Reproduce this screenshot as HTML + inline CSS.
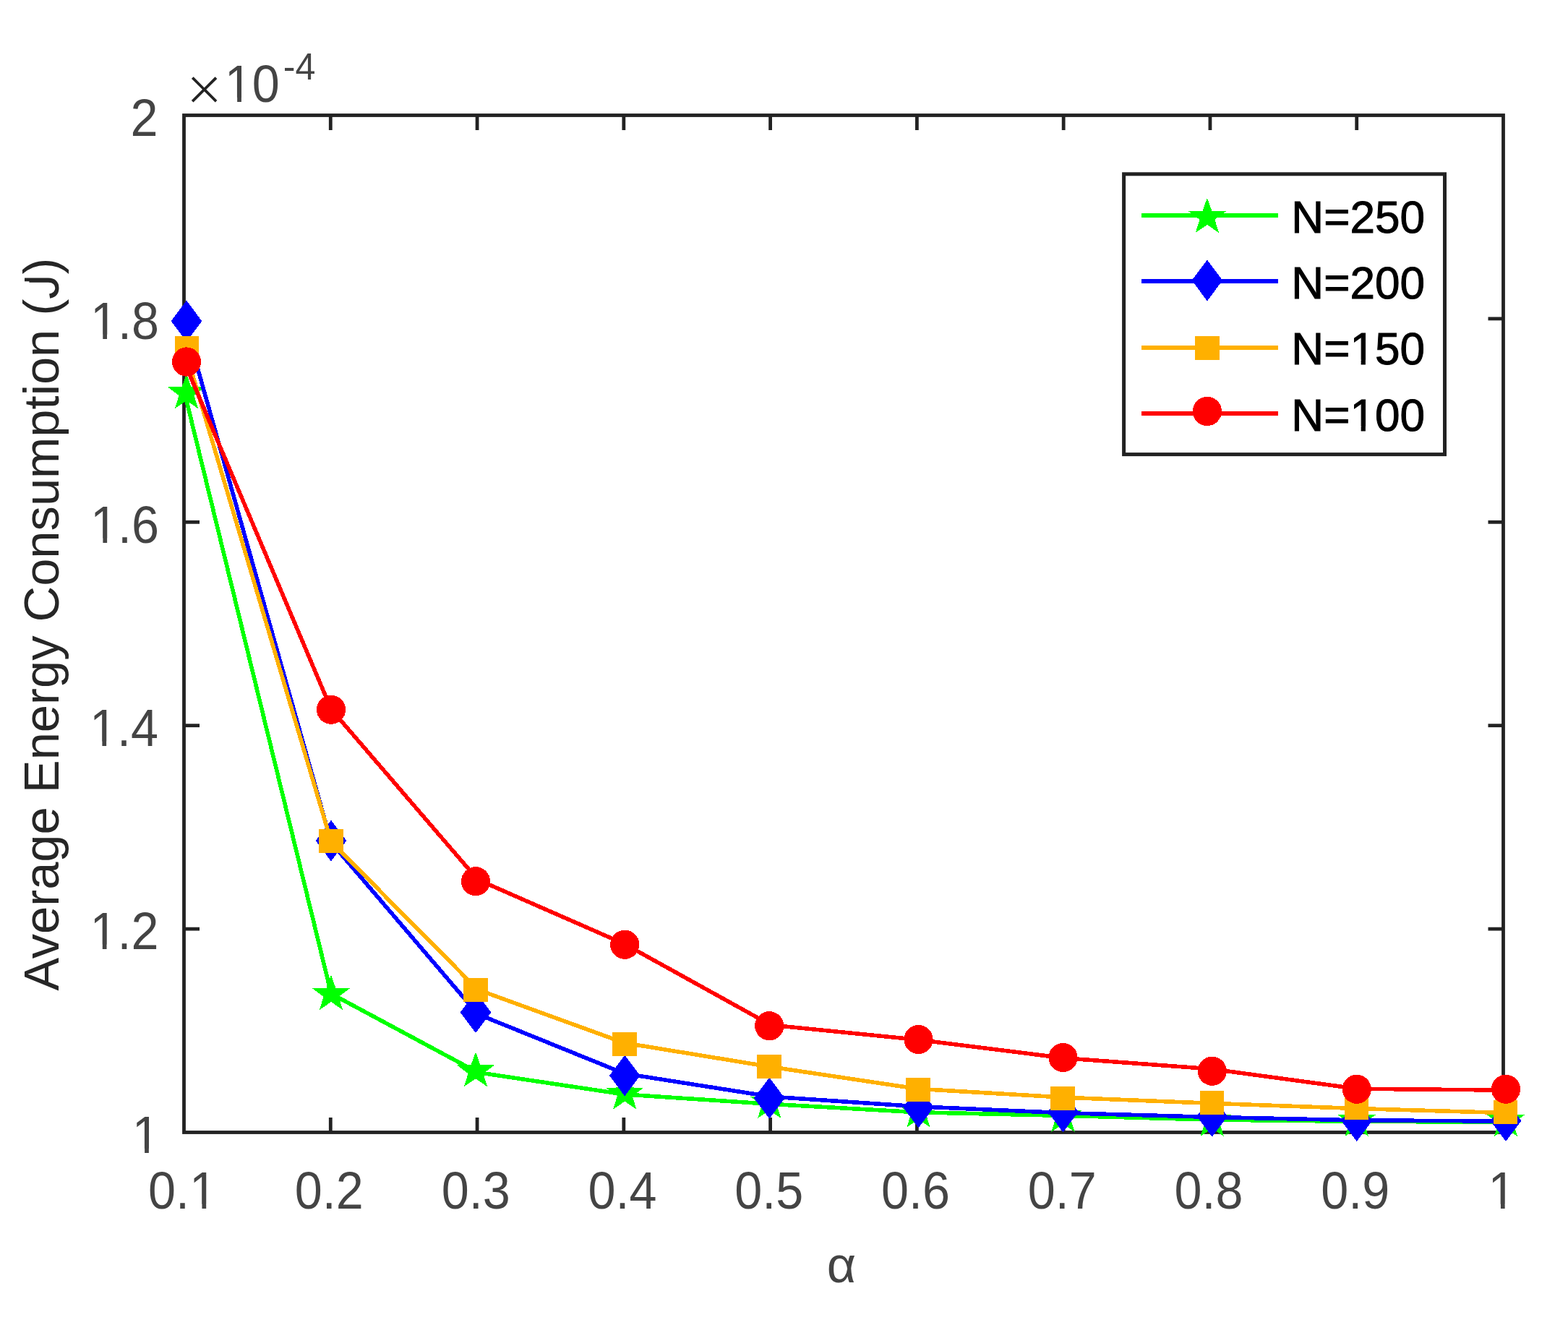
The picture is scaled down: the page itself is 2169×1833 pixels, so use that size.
<!DOCTYPE html>
<html lang="en">
<head>
<meta charset="utf-8">
<title>Average Energy Consumption vs α</title>
<style>
html,body{margin:0;padding:0;background:#ffffff;}
body{width:2169px;height:1833px;overflow:hidden;}
svg{display:block;}
text{white-space:pre;}
</style>
</head>
<body>
<svg width="2169" height="1833" viewBox="0 0 2169 1833" font-family='"Liberation Sans", "DejaVu Sans", sans-serif'>
<rect x="0" y="0" width="2169" height="1833" fill="#ffffff"/>
<defs>
<clipPath id="c1"><path clip-rule="evenodd" d="M-50 -86.4 H150.1 V36.0 H-50 Z M63.53 -6.28 H78.30 V2.00 H63.53 Z M84.37 -6.28 H98.57 V2.00 H84.37 Z"/></clipPath>
<clipPath id="c2"><path clip-rule="evenodd" d="M-50 -86.4 H90.0 V36.0 H-50 Z M3.48 -6.28 H18.26 V2.00 H3.48 Z M24.32 -6.28 H38.53 V2.00 H24.32 Z"/></clipPath>
<clipPath id="c3"><path clip-rule="evenodd" d="M-50 -86.4 H150.1 V36.0 H-50 Z M3.48 -6.28 H18.26 V2.00 H3.48 Z M24.32 -6.28 H38.53 V2.00 H24.32 Z"/></clipPath>
<clipPath id="c4"><path clip-rule="evenodd" d="M-50 -86.4 H150.1 V36.0 H-50 Z M3.48 -6.28 H18.26 V2.00 H3.48 Z M24.32 -6.28 H38.53 V2.00 H24.32 Z"/></clipPath>
<clipPath id="c5"><path clip-rule="evenodd" d="M-50 -86.4 H150.1 V36.0 H-50 Z M3.48 -6.28 H18.26 V2.00 H3.48 Z M24.32 -6.28 H38.53 V2.00 H24.32 Z"/></clipPath>
<clipPath id="c6"><path clip-rule="evenodd" d="M-50 -86.4 H150.1 V36.0 H-50 Z M3.48 -6.28 H18.26 V2.00 H3.48 Z M24.32 -6.28 H38.53 V2.00 H24.32 Z"/></clipPath>
<clipPath id="c7"><path clip-rule="evenodd" d="M-50 -86.4 H90.0 V36.0 H-50 Z M3.48 -6.28 H18.26 V2.00 H3.48 Z M24.32 -6.28 H38.53 V2.00 H24.32 Z"/></clipPath>
<clipPath id="c8"><path clip-rule="evenodd" d="M-50 -86.4 H130.1 V36.0 H-50 Z M3.48 -6.28 H18.26 V2.00 H3.48 Z M24.32 -6.28 H38.53 V2.00 H24.32 Z"/></clipPath>
<clipPath id="c9"><path clip-rule="evenodd" d="M-50 -82.3 H1064.2 V34.3 H-50 Z M968.85 -49.20 H980.08 V-40.97 H968.85 Z"/></clipPath>
<clipPath id="c10"><path clip-rule="evenodd" d="M-50 -76.6 H239.8 V31.9 H-50 Z M86.19 -6.17 H99.03 V2.00 H86.19 Z M105.36 -6.17 H117.70 V2.00 H105.36 Z"/></clipPath>
<clipPath id="c11"><path clip-rule="evenodd" d="M-50 -76.6 H239.8 V31.9 H-50 Z M86.19 -6.17 H99.03 V2.00 H86.19 Z M105.36 -6.17 H117.70 V2.00 H105.36 Z"/></clipPath>
</defs>
<g id="axes" stroke="#222222" stroke-width="4.80" fill="none" stroke-linecap="butt">
<rect x="254.50" y="159.50" width="1825.00" height="1407.00"/>
<line x1="457.28" y1="1566.50" x2="457.28" y2="1546.00"/>
<line x1="457.28" y1="159.50" x2="457.28" y2="180.00"/>
<line x1="660.06" y1="1566.50" x2="660.06" y2="1546.00"/>
<line x1="660.06" y1="159.50" x2="660.06" y2="180.00"/>
<line x1="862.83" y1="1566.50" x2="862.83" y2="1546.00"/>
<line x1="862.83" y1="159.50" x2="862.83" y2="180.00"/>
<line x1="1065.61" y1="1566.50" x2="1065.61" y2="1546.00"/>
<line x1="1065.61" y1="159.50" x2="1065.61" y2="180.00"/>
<line x1="1268.39" y1="1566.50" x2="1268.39" y2="1546.00"/>
<line x1="1268.39" y1="159.50" x2="1268.39" y2="180.00"/>
<line x1="1471.17" y1="1566.50" x2="1471.17" y2="1546.00"/>
<line x1="1471.17" y1="159.50" x2="1471.17" y2="180.00"/>
<line x1="1673.94" y1="1566.50" x2="1673.94" y2="1546.00"/>
<line x1="1673.94" y1="159.50" x2="1673.94" y2="180.00"/>
<line x1="1876.72" y1="1566.50" x2="1876.72" y2="1546.00"/>
<line x1="1876.72" y1="159.50" x2="1876.72" y2="180.00"/>
<line x1="254.50" y1="1285.10" x2="276.00" y2="1285.10"/>
<line x1="2079.50" y1="1285.10" x2="2058.50" y2="1285.10"/>
<line x1="254.50" y1="1003.70" x2="276.00" y2="1003.70"/>
<line x1="2079.50" y1="1003.70" x2="2058.50" y2="1003.70"/>
<line x1="254.50" y1="722.30" x2="276.00" y2="722.30"/>
<line x1="2079.50" y1="722.30" x2="2058.50" y2="722.30"/>
<line x1="254.50" y1="440.90" x2="276.00" y2="440.90"/>
<line x1="2079.50" y1="440.90" x2="2058.50" y2="440.90"/>
</g>
<g id="xticks">
<text transform="translate(205.07 1672.00) scale(0.9497 1)" font-size="72.00" fill="#444444" clip-path="url(#c1)">0.1</text>
<text transform="translate(407.85 1672.00) scale(0.9497 1)" font-size="72.00" fill="#444444">0.2</text>
<text transform="translate(610.63 1672.00) scale(0.9497 1)" font-size="72.00" fill="#444444">0.3</text>
<text transform="translate(813.41 1672.00) scale(0.9497 1)" font-size="72.00" fill="#444444">0.4</text>
<text transform="translate(1016.18 1672.00) scale(0.9497 1)" font-size="72.00" fill="#444444">0.5</text>
<text transform="translate(1218.96 1672.00) scale(0.9497 1)" font-size="72.00" fill="#444444">0.6</text>
<text transform="translate(1421.74 1672.00) scale(0.9497 1)" font-size="72.00" fill="#444444">0.7</text>
<text transform="translate(1624.52 1672.00) scale(0.9497 1)" font-size="72.00" fill="#444444">0.8</text>
<text transform="translate(1827.29 1672.00) scale(0.9497 1)" font-size="72.00" fill="#444444">0.9</text>
<text transform="translate(2058.59 1672.00) scale(0.9497 1)" font-size="72.00" fill="#444444" clip-path="url(#c2)">1</text>
</g>
<g id="yticks">
<text transform="translate(180.57 188.00) scale(0.9497 1)" font-size="72.00" fill="#444444">2</text>
<text transform="translate(124.94 469.00) scale(0.9497 1)" font-size="72.00" fill="#444444" clip-path="url(#c3)">1.8</text>
<text transform="translate(125.04 751.00) scale(0.9497 1)" font-size="72.00" fill="#444444" clip-path="url(#c4)">1.6</text>
<text transform="translate(124.04 1032.00) scale(0.9497 1)" font-size="72.00" fill="#444444" clip-path="url(#c5)">1.4</text>
<text transform="translate(124.44 1313.00) scale(0.9497 1)" font-size="72.00" fill="#444444" clip-path="url(#c6)">1.2</text>
<text transform="translate(182.77 1595.00) scale(0.9497 1)" font-size="72.00" fill="#444444" clip-path="url(#c7)">1</text>
</g>
<g id="exponent">
<text transform="translate(256.88 153.00)" font-size="87.60" fill="#222222" stroke="#ffffff" stroke-width="2.4" stroke-linejoin="miter">×</text>
<text transform="translate(310.81 141.00) scale(0.9497 1)" font-size="72.00" fill="#444444" clip-path="url(#c8)">10</text>
<text transform="translate(391.77 110.00) scale(0.9750 1)" font-size="51.50" fill="#444444">-4</text>
</g>
<text transform="translate(1143.84 1774.00) scale(0.9840 1)" font-size="71.00" fill="#444444">α</text>
<text transform="translate(81.40 1370.87) rotate(-90) scale(1.0015 1)" font-size="68.60" fill="#262626" clip-path="url(#c9)">Average Energy Consumption (J)</text>
<g id="data" shape-rendering="crispEdges">
<polyline points="255.33,543.29 458.11,1374.70 660.89,1483.60 863.66,1513.99 1066.44,1527.35 1269.22,1538.76 1472.00,1543.39 1674.77,1549.08 1877.55,1551.37 2080.33,1552.22" fill="none" stroke="#00ff00" stroke-width="5.60" stroke-linejoin="round"/>
<polygon points="258.00,517.15 264.45,535.14 284.11,535.53 268.44,547.04 274.13,565.27 258.00,554.39 241.87,565.27 247.56,547.04 231.89,535.53 251.55,535.14" fill="#00ff00"/>
<polygon points="458.00,1348.90 464.45,1366.89 484.11,1367.28 468.44,1378.79 474.13,1397.02 458.00,1386.14 441.87,1397.02 447.56,1378.79 431.89,1367.28 451.55,1366.89" fill="#00ff00"/>
<polygon points="658.00,1455.15 664.45,1473.14 684.11,1473.53 668.44,1485.04 674.13,1503.27 658.00,1492.39 641.87,1503.27 647.56,1485.04 631.89,1473.53 651.55,1473.14" fill="#00ff00"/>
<polygon points="864.25,1486.40 870.70,1504.39 890.36,1504.78 874.69,1516.29 880.38,1534.52 864.25,1523.64 848.12,1534.52 853.81,1516.29 838.14,1504.78 857.80,1504.39" fill="#00ff00"/>
<polygon points="1064.25,1498.90 1070.70,1516.89 1090.36,1517.28 1074.69,1528.79 1080.38,1547.02 1064.25,1536.14 1048.12,1547.02 1053.81,1528.79 1038.14,1517.28 1057.80,1516.89" fill="#00ff00"/>
<polygon points="1270.50,1511.40 1276.95,1529.39 1296.61,1529.78 1280.94,1541.29 1286.63,1559.52 1270.50,1548.64 1254.37,1559.52 1260.06,1541.29 1244.39,1529.78 1264.05,1529.39" fill="#00ff00"/>
<polygon points="1470.50,1517.65 1476.95,1535.64 1496.61,1536.03 1480.94,1547.54 1486.63,1565.77 1470.50,1554.89 1454.37,1565.77 1460.06,1547.54 1444.39,1536.03 1464.05,1535.64" fill="#00ff00"/>
<polygon points="1676.75,1523.90 1683.20,1541.89 1702.86,1542.28 1687.19,1553.79 1692.88,1572.02 1676.75,1561.14 1660.62,1572.02 1666.31,1553.79 1650.64,1542.28 1670.30,1541.89" fill="#00ff00"/>
<polygon points="1876.75,1523.90 1883.20,1541.89 1902.86,1542.28 1887.19,1553.79 1892.88,1572.02 1876.75,1561.14 1860.62,1572.02 1866.31,1553.79 1850.64,1542.28 1870.30,1541.89" fill="#00ff00"/>
<polygon points="2083.00,1523.90 2089.45,1541.89 2109.11,1542.28 2093.44,1553.79 2099.13,1572.02 2083.00,1561.14 2066.87,1572.02 2072.56,1553.79 2056.89,1542.28 2076.55,1541.89" fill="#00ff00"/>
<polyline points="255.33,445.36 458.11,1165.53 660.89,1402.96 863.66,1485.12 1066.44,1517.11 1269.22,1530.76 1472.00,1539.69 1674.77,1545.38 1877.55,1549.85 2080.33,1551.04" fill="none" stroke="#0000ff" stroke-width="5.60" stroke-linejoin="round"/>
<polygon points="258.00,415.75 279.30,444.25 258.00,472.75 236.70,444.25" fill="#0000ff"/>
<polygon points="458.00,1134.50 479.30,1163.00 458.00,1191.50 436.70,1163.00" fill="#0000ff"/>
<polygon points="658.00,1372.00 679.30,1400.50 658.00,1429.00 636.70,1400.50" fill="#0000ff"/>
<polygon points="864.25,1459.50 885.55,1488.00 864.25,1516.50 842.95,1488.00" fill="#0000ff"/>
<polygon points="1064.25,1490.75 1085.55,1519.25 1064.25,1547.75 1042.95,1519.25" fill="#0000ff"/>
<polygon points="1270.50,1503.25 1291.80,1531.75 1270.50,1560.25 1249.20,1531.75" fill="#0000ff"/>
<polygon points="1470.50,1509.50 1491.80,1538.00 1470.50,1566.50 1449.20,1538.00" fill="#0000ff"/>
<polygon points="1676.75,1515.75 1698.05,1544.25 1676.75,1572.75 1655.45,1544.25" fill="#0000ff"/>
<polygon points="1876.75,1522.00 1898.05,1550.50 1876.75,1579.00 1855.45,1550.50" fill="#0000ff"/>
<polygon points="2083.00,1522.00 2104.30,1550.50 2083.00,1579.00 2061.70,1550.50" fill="#0000ff"/>
<polyline points="255.33,481.41 458.11,1164.43 660.89,1369.13 863.66,1442.78 1066.44,1475.93 1269.22,1506.28 1472.00,1518.20 1674.77,1526.27 1877.55,1533.57 2080.33,1539.48" fill="none" stroke="#ffb000" stroke-width="5.60" stroke-linejoin="round"/>
<rect x="242" y="465" width="33" height="33" fill="#ffb000"/>
<rect x="441" y="1147" width="34" height="33" fill="#ffb000"/>
<rect x="641" y="1353" width="34" height="33" fill="#ffb000"/>
<rect x="847" y="1428" width="34" height="33" fill="#ffb000"/>
<rect x="1047" y="1459" width="34" height="33" fill="#ffb000"/>
<rect x="1253" y="1491" width="34" height="33" fill="#ffb000"/>
<rect x="1453" y="1503" width="34" height="33" fill="#ffb000"/>
<rect x="1660" y="1509" width="33" height="33" fill="#ffb000"/>
<rect x="1860" y="1516" width="33" height="33" fill="#ffb000"/>
<rect x="2066" y="1522" width="33" height="33" fill="#ffb000"/>
<polyline points="255.33,501.67 458.11,981.16 660.89,1216.94 863.66,1305.79 1066.44,1418.08 1269.22,1438.29 1472.00,1463.77 1674.77,1478.74 1877.55,1506.25 2080.33,1508.08" fill="none" stroke="#ff0000" stroke-width="5.60" stroke-linejoin="round"/>
<circle cx="258.00" cy="500.50" r="20.1" fill="#ff0000"/>
<circle cx="458.00" cy="981.75" r="20.1" fill="#ff0000"/>
<circle cx="658.00" cy="1219.25" r="20.1" fill="#ff0000"/>
<circle cx="864.25" cy="1306.75" r="20.1" fill="#ff0000"/>
<circle cx="1064.25" cy="1419.25" r="20.1" fill="#ff0000"/>
<circle cx="1270.50" cy="1438.00" r="20.1" fill="#ff0000"/>
<circle cx="1470.50" cy="1463.00" r="20.1" fill="#ff0000"/>
<circle cx="1676.75" cy="1481.75" r="20.1" fill="#ff0000"/>
<circle cx="1876.75" cy="1506.75" r="20.1" fill="#ff0000"/>
<circle cx="2083.00" cy="1506.75" r="20.1" fill="#ff0000"/>
</g>
<g id="legend">
<rect x="1554.60" y="240.80" width="443.90" height="387.80" fill="#ffffff" stroke="#222222" stroke-width="5"/>
<g shape-rendering="crispEdges">
<line x1="1579" y1="297.80" x2="1768.2" y2="297.80" stroke="#00ff00" stroke-width="6"/>
<polygon points="1669.90,273.80 1676.35,291.79 1696.01,292.18 1680.34,303.69 1686.03,321.92 1669.90,311.04 1653.77,321.92 1659.46,303.69 1643.79,292.18 1663.45,291.79" fill="#00ff00"/>
<line x1="1579" y1="389.00" x2="1768.2" y2="389.00" stroke="#0000ff" stroke-width="6"/>
<polygon points="1669.90,359.40 1691.20,387.90 1669.90,416.40 1648.60,387.90" fill="#0000ff"/>
<line x1="1579" y1="480.50" x2="1768.2" y2="480.50" stroke="#ffb000" stroke-width="6"/>
<rect x="1653.20" y="464.95" width="33.4" height="33.1" fill="#ffb000"/>
<line x1="1579" y1="571.80" x2="1768.2" y2="571.80" stroke="#ff0000" stroke-width="6"/>
<circle cx="1669.90" cy="569.00" r="20.1" fill="#ff0000"/>
</g>
<text transform="translate(1786.31 322.00) scale(0.9734 1)" font-size="63.80" fill="#000000" stroke="#000000" stroke-width="1">N=250</text>
<text transform="translate(1786.31 413.00) scale(0.9734 1)" font-size="63.80" fill="#000000" stroke="#000000" stroke-width="1">N=200</text>
<text transform="translate(1786.31 504.00) scale(0.9734 1)" font-size="63.80" fill="#000000" clip-path="url(#c10)" stroke="#000000" stroke-width="1">N=150</text>
<text transform="translate(1786.31 596.00) scale(0.9734 1)" font-size="63.80" fill="#000000" clip-path="url(#c11)" stroke="#000000" stroke-width="1">N=100</text>
</g>
</svg>
</body>
</html>
